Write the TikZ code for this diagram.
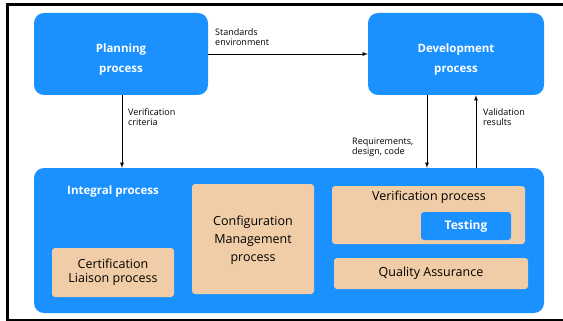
\documentclass[tikz,border=0pt]{standalone}
\usepackage{fontspec}
\setmainfont{Open Sans}
\usepackage{xcolor}
\usetikzlibrary{shapes.geometric,arrows}
\definecolor{procblue}{RGB}{26,145,255}
\definecolor{procsand}{RGB}{240,205,167}
\tikzstyle{mainproc} = [rectangle, rounded corners=10pt,
inner sep=0pt,
align=center,
fill=procblue,
text=white,
font=\fontsize{11.5}{20}\selectfont\bfseries]
\tikzstyle{subproc} = [rectangle, rounded corners=3pt,
inner sep=0pt,
align=center,
fill=procsand,
text=black,
font=\fontsize{12.5}{18}\selectfont]
\tikzstyle{flowlabel} = [anchor=west, align=left, inner sep=0pt,
font=\fontsize{9}{10.3}\selectfont]
\tikzstyle{arrow} = [line width=0.8pt,->,>=latex]

\begin{document}
\begin{tikzpicture}[x=1pt,y=-1pt]
				\useasboundingbox (0,0) rectangle (563,321);
				\draw[line width=3pt] (7.5,4.5) rectangle (600,320.5);

				% top row, title text sits a little low in the box
				\node[mainproc, minimum width=174pt, minimum height=82pt] (plan) at (121,54) {\rule{0pt}{19pt}Planning\\process};
				\node[mainproc, minimum width=176pt, minimum height=82pt] (dev) at (456,54) {\rule{0pt}{19pt}Development\\process};
				\node[mainproc, minimum width=510pt, minimum height=145pt] (integral) at (289,240.5) {};
				\node[text=white, font=\fontsize{11.5}{12}\selectfont\bfseries] (integral-title) at (113,192) {Integral process};

				\node[subproc, minimum width=122pt, minimum height=110pt] (config) at (253,239) {\rule{0pt}{13pt}Configuration\\Management\\process};
				\node[subproc, minimum width=122pt, minimum height=49pt, font=\fontsize{12.5}{14}\selectfont] (cert) at (113,272.5) {Certification\\Liaison process};
				\node[subproc, minimum width=193pt, minimum height=58pt] (verif) at (428.5,215) {};
				\node[font=\fontsize{12.5}{12}\selectfont] (verif-title) at (429,197) {Verification process};
				\node[mainproc, rounded corners=3pt, minimum width=90pt, minimum height=28pt, font=\fontsize{12}{12}\selectfont\bfseries] (testing) at (466,226) {Testing};
				\node[subproc, minimum width=194pt, minimum height=31pt] (qa) at (431,273.5) {Quality Assurance};

				\draw[arrow] (plan.east) -- (dev.west);
				\draw[arrow] ([xshift=1pt]plan.south) -- ([xshift=1pt]plan.south |- integral.north);
				\draw[arrow] ([xshift=-29pt]dev.south) -- ([xshift=-29pt]dev.south |- integral.north);
				\draw[arrow] ([xshift=20pt]dev.south |- integral.north) -- ([xshift=20pt]dev.south);

				\node[flowlabel] (std-label) at (215,37) {Standards\\environment};
				\node[flowlabel] (crit-label) at (128,117) {Verification\\criteria};
				\node[flowlabel] (req-label) at (352,147) {Requirements,\\design, code};
				\node[flowlabel] (val-label) at (483,117) {Validation\\results};
			\end{tikzpicture}
\end{document}
